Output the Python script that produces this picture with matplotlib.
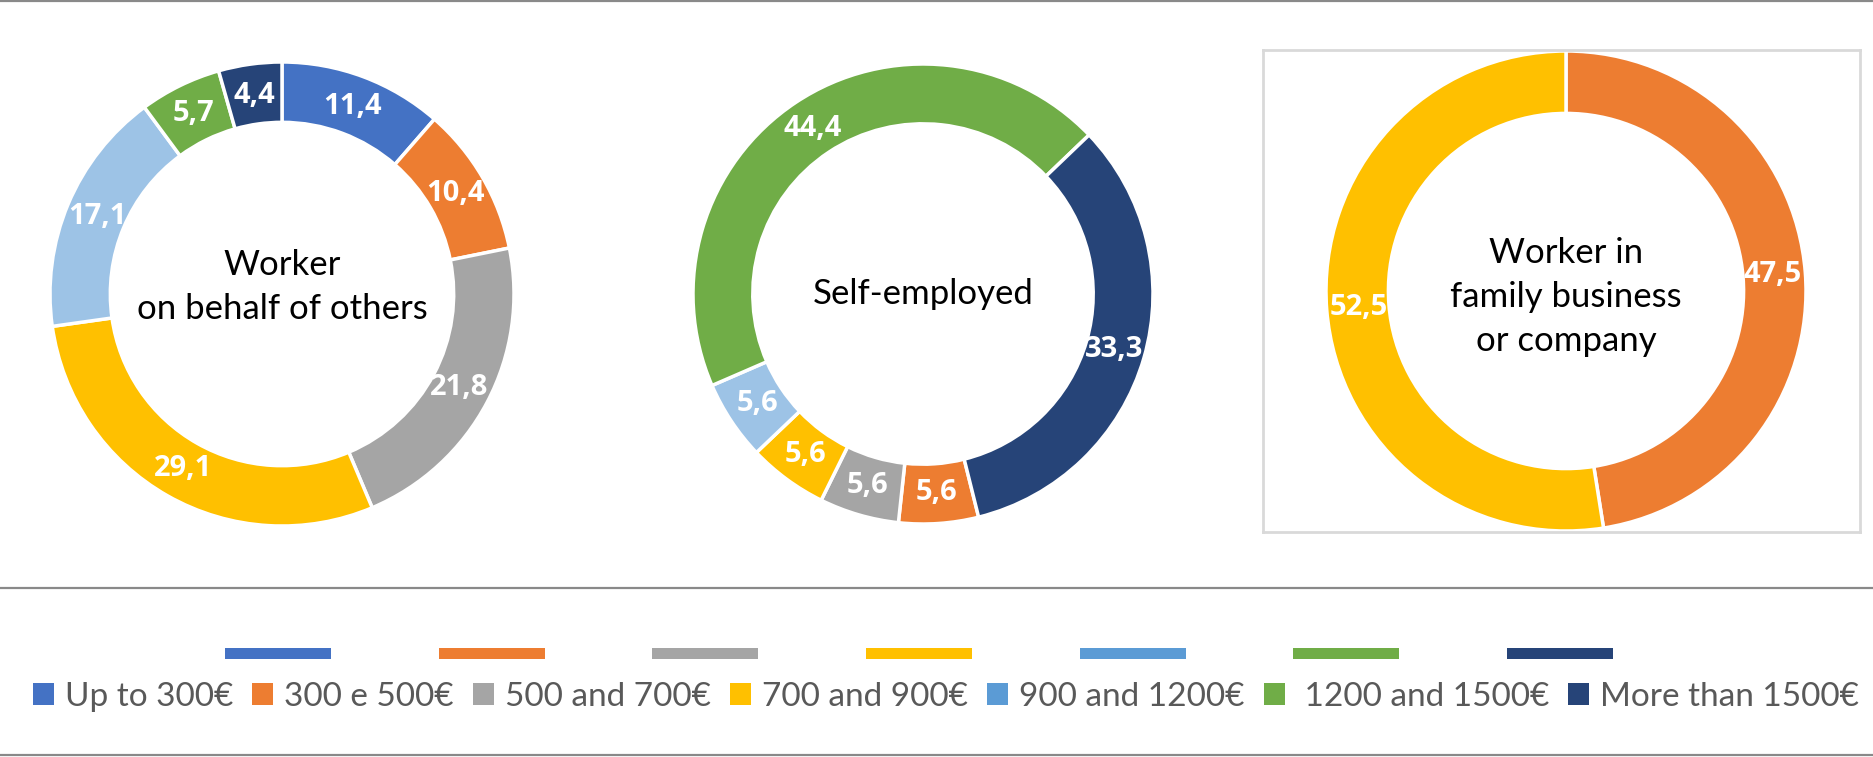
import numpy as np
import matplotlib
matplotlib.use("Agg")
import matplotlib.pyplot as plt
from matplotlib.patches import Patch
from matplotlib.lines import Line2D

plt.rcParams['font.family'] = ['Lato', 'DejaVu Sans']

# data (shares in %)
categories = ["Up to 300€", "300 e 500€", "500 and 700€", "700 and 900€",
              "900 and 1200€", " 1200 and 1500€", "More than 1500€"]
worker_others = [11.4, 10.4, 21.8, 29.1, 17.1, 5.7, 4.4]
self_employed = [0, 5.6, 5.6, 5.6, 5.6, 44.4, 33.3]
family_business = [0, 47.5, 0, 52.5, 0, 0, 0]
titles = ["Worker\non behalf of others", "Self-employed",
          "Worker in\nfamily business\nor company"]

ring_colors = ["#4472C4", "#ED7D31", "#A5A5A5", "#FFC000", "#9DC3E6", "#70AD47", "#264478"]
legend_colors = ["#4472C4", "#ED7D31", "#A5A5A5", "#FFC000", "#5B9BD5", "#70AD47", "#264478"]

W, H = 1873, 757
fig = plt.figure(figsize=(W / 100, H / 100), dpi=100)


def px_axes(left, top, width, height):
    return fig.add_axes([left / W, 1 - (top + height) / H, width / W, height / H])


def donut(ax, values, start, title, title_y, linespacing):
    vals = [v for v in values if v > 0]
    cols = [c for v, c in zip(values, ring_colors) if v > 0]
    wedges, _ = ax.pie(vals, colors=cols, startangle=start, counterclock=False,
                       radius=1, wedgeprops=dict(width=0.26, edgecolor="white", linewidth=2.5))
    for w, v in zip(wedges, vals):
        ang = np.deg2rad((w.theta1 + w.theta2) / 2)
        ax.text(0.865 * np.cos(ang), 0.865 * np.sin(ang), f"{v:.1f}".replace(".", ","),
                ha="center", va="center", color="white", fontsize=21, fontweight="bold",
                family=["Open Sans", "DejaVu Sans"])
    ax.text(0, title_y, title, ha="center", va="center", fontsize=25,
            color="black", linespacing=linespacing)


# Worker on behalf of others
ax1 = px_axes(50, 62, 464, 464)
donut(ax1, worker_others, 90, titles[0], 0.03, 1.45)
ax1.set_xlim(-1, 1)
ax1.set_ylim(-1, 1)

# Self-employed
ax2 = px_axes(693, 64, 460, 460)
donut(ax2, self_employed, 90 - 166, titles[1], 0.0, 1.2)
ax2.set_xlim(-1, 1)
ax2.set_ylim(-1, 1)

# Worker in family business (boxed plot area)
ax3 = px_axes(1263, 50, 597, 482)
donut(ax3, family_business, 90, titles[2], -0.025, 1.45)
ax3.set_xlim(-(1566 - 1263) / 240, (1860 - 1566) / 240)
ax3.set_ylim(-(532 - 291) / 240, (291 - 50) / 240)
ax3.set_aspect("auto")
ax3.set_frame_on(True)
for s in ax3.spines.values():
    s.set_color("#D9D9D9")
    s.set_linewidth(2)

# separator lines
for y in [1, 588, 755]:
    fig.add_artist(Line2D([0, 1], [1 - y / H, 1 - y / H], transform=fig.transFigure,
                          color="#898989", linewidth=1.6))

# row of colour bars (one per category)
bar_handles = [Patch(facecolor=c) for c in legend_colors]
fs1 = 10
fig.legend(bar_handles, [""] * len(bar_handles), ncol=7, loc="center",
           bbox_to_anchor=(919 / W, 1 - 654 / H), frameon=False, fontsize=fs1,
           handlelength=106 / 13.89, handleheight=12 / 13.89, handletextpad=0,
           columnspacing=107.6 / 13.89, borderpad=0, borderaxespad=0)

# text legend
handles = [Patch(facecolor=c) for c in legend_colors]
fig.legend(handles, categories, ncol=7, loc="center",
           bbox_to_anchor=(946 / W, 1 - 697 / H), frameon=False, fontsize=24,
           labelcolor="#595959", handlelength=0.63, handleheight=0.63,
           handletextpad=0.33, columnspacing=0.57, borderpad=0, borderaxespad=0)

fig.savefig("out.png", dpi=100, facecolor="white")
